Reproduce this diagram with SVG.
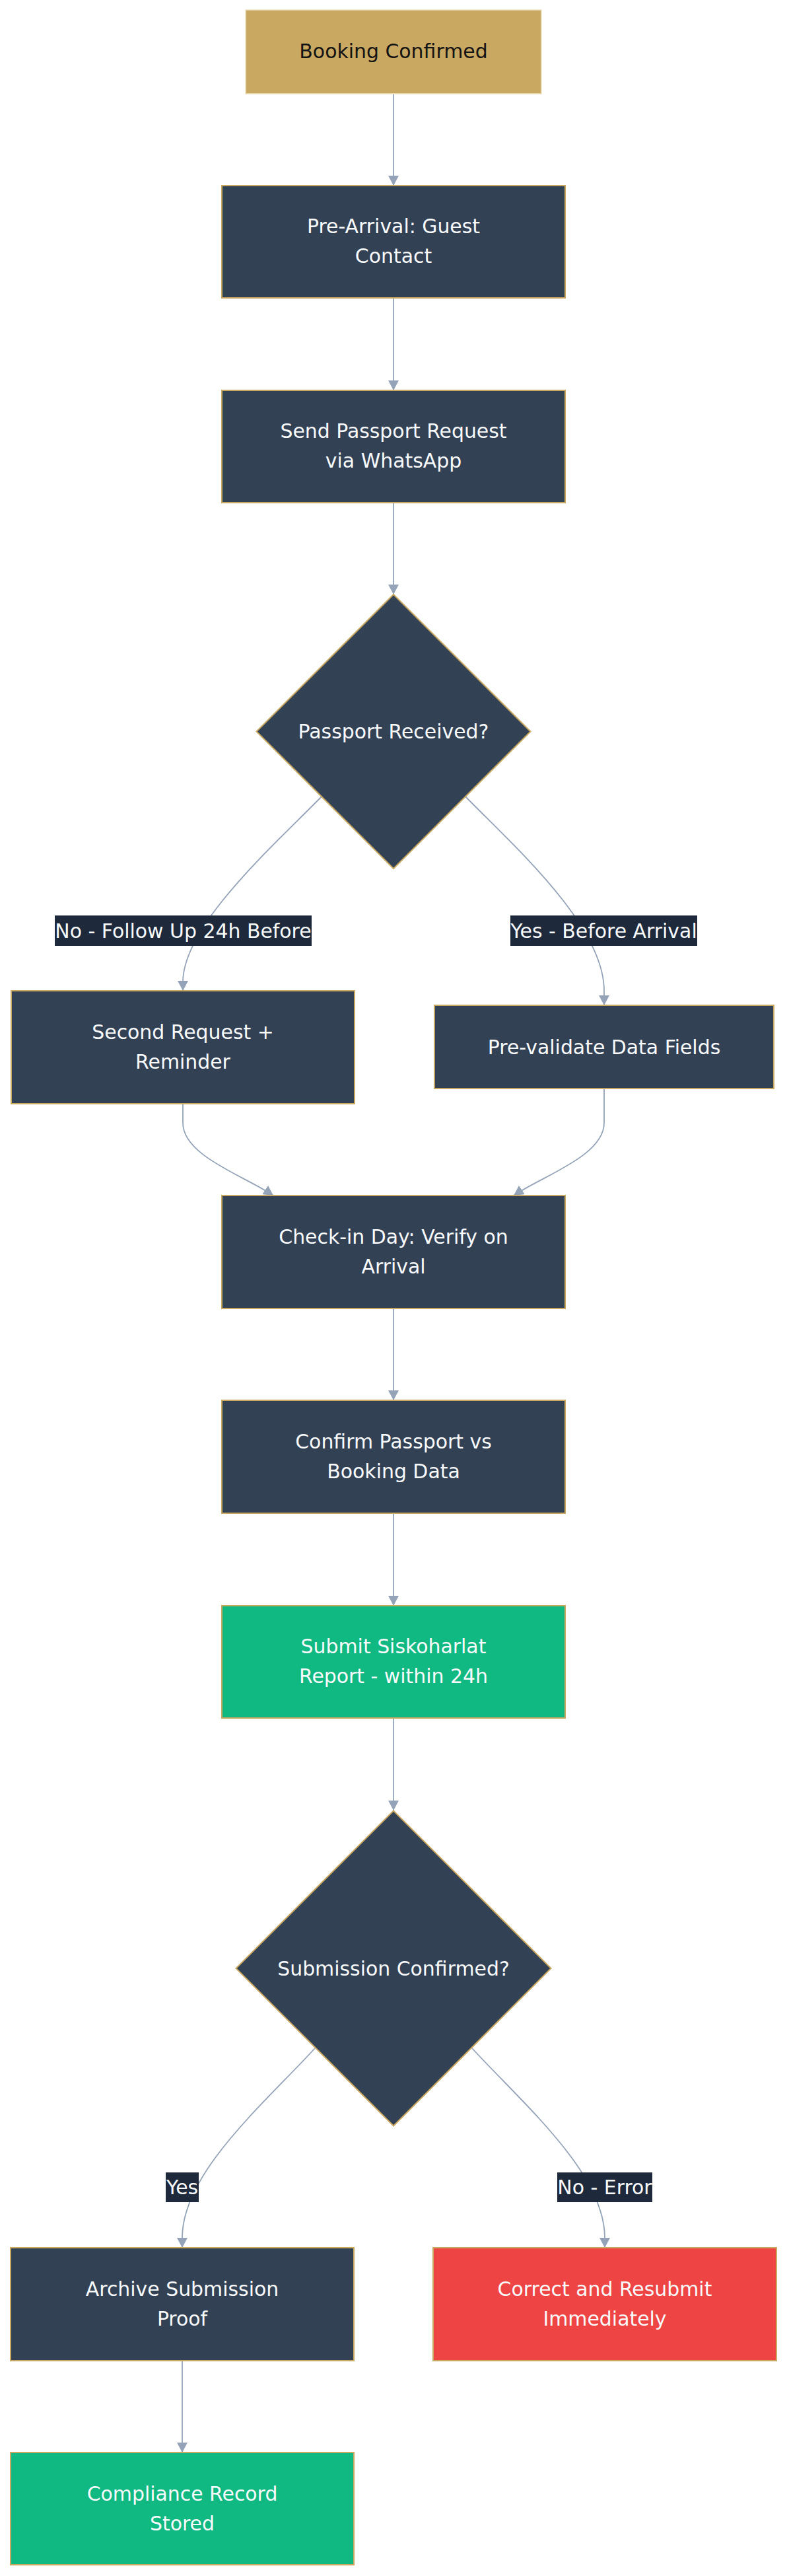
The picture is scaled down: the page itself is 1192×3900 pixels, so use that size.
<svg xmlns="http://www.w3.org/2000/svg" width="1192" height="3900" viewBox="0 0 1192 3900">
<style>
.bg{fill:#ffffff}
.node{fill:#334155;stroke:#c9a961;stroke-width:2}
.start{fill:#c9a862;stroke:#efe3c4;stroke-width:1.5}
.ok{fill:#10b981;stroke:#c9a961;stroke-width:2}
.err{fill:#ef4444;stroke:#c9a961;stroke-width:2}
.t{font-family:"DejaVu Sans","Liberation Sans",sans-serif;font-size:29.9px;fill:#f8fafc;text-anchor:middle}
.td{fill:#141414}
.edge{fill:none;stroke:#94a3b8;stroke-width:1.8}
.lbl{fill:#1e293b}
</style>
<defs>
<marker id="arr" markerUnits="userSpaceOnUse" markerWidth="16" markerHeight="16" refX="15" refY="8" orient="auto">
<path d="M0,0 L15,8 L0,16 z" fill="#94a3b8"/>
</marker>
</defs>
<rect class="bg" x="0" y="0" width="1192" height="3900"/>

<g id="connectors">
<path class="edge" d="M596,142 L596,281" marker-end="url(#arr)"/>
<path class="edge" d="M596,451 L596,591" marker-end="url(#arr)"/>
<path class="edge" d="M596,761 L596,900" marker-end="url(#arr)"/>
<path class="edge" d="M487,1206 C420,1275 277,1400 277,1487 L277,1500" marker-end="url(#arr)"/>
<path class="edge" d="M705,1206 C772,1275 915,1400 915,1500 L915,1522" marker-end="url(#arr)"/>
<path class="edge" d="M277,1671 L277,1700 C277,1750 370,1780 414,1810" marker-end="url(#arr)"/>
<path class="edge" d="M915,1648 L915,1700 C915,1750 822,1780 778,1810" marker-end="url(#arr)"/>
<path class="edge" d="M596,1981 L596,2120" marker-end="url(#arr)"/>
<path class="edge" d="M596,2291 L596,2431" marker-end="url(#arr)"/>
<path class="edge" d="M596,2601 L596,2741" marker-end="url(#arr)"/>
<path class="edge" d="M477,3101 C400,3185 276,3290 276,3388 L276,3403" marker-end="url(#arr)"/>
<path class="edge" d="M715,3101 C792,3185 916,3290 916,3388 L916,3403" marker-end="url(#arr)"/>
<path class="edge" d="M276,3574 L276,3713" marker-end="url(#arr)"/>
<g id="edge-labels">
<rect class="lbl" x="83" y="1386" width="389" height="46"/>
<text class="t" x="277.5" y="1419.5">No - Follow Up 24h Before</text>
<rect class="lbl" x="773" y="1386" width="283" height="46"/>
<text class="t" x="914.5" y="1419.5">Yes - Before Arrival</text>
<rect class="lbl" x="251" y="3289" width="50" height="45"/>
<text class="t" x="276" y="3322">Yes</text>
<rect class="lbl" x="844" y="3289" width="144" height="45"/>
<text class="t" x="916" y="3322">No - Error</text>
</g>
</g>

<g id="booking-confirmed">
<rect class="start" x="372" y="15" width="448" height="127"/>
<text class="t td" x="596" y="88">Booking Confirmed</text>
</g>
<g id="pre-arrival">
<rect class="node" x="336" y="281" width="520" height="170"/>
<text class="t" x="596" y="353">Pre-Arrival: Guest</text>
<text class="t" x="596" y="398">Contact</text>
</g>
<g id="send-request">
<rect class="node" x="336" y="591" width="520" height="170"/>
<text class="t" x="596" y="663">Send Passport Request</text>
<text class="t" x="596" y="708">via WhatsApp</text>
</g>
<g id="passport-received">
<polygon class="node" points="596,900 803.5,1107.5 596,1315 388.5,1107.5"/>
<text class="t" x="596" y="1118">Passport Received?</text>
</g>
<g id="second-request">
<rect class="node" x="17" y="1500" width="520" height="171"/>
<text class="t" x="277" y="1573">Second Request +</text>
<text class="t" x="277" y="1618">Reminder</text>
</g>
<g id="pre-validate">
<rect class="node" x="658" y="1522" width="514" height="126"/>
<text class="t" x="915" y="1595.5">Pre-validate Data Fields</text>
</g>
<g id="check-in">
<rect class="node" x="336" y="1810" width="520" height="171"/>
<text class="t" x="596" y="1883">Check-in Day: Verify on</text>
<text class="t" x="596" y="1928">Arrival</text>
</g>
<g id="confirm-passport">
<rect class="node" x="336" y="2120" width="520" height="171"/>
<text class="t" x="596" y="2193">Confirm Passport vs</text>
<text class="t" x="596" y="2238">Booking Data</text>
</g>
<g id="submit-report">
<rect class="ok" x="336" y="2431" width="520" height="170"/>
<text class="t" x="596" y="2503">Submit Siskoharlat</text>
<text class="t" x="596" y="2548">Report - within 24h</text>
</g>
<g id="submission-confirmed">
<polygon class="node" points="596,2741.5 834.5,2980 596,3218.5 357.5,2980"/>
<text class="t" x="596" y="2990.5">Submission Confirmed?</text>
</g>
<g id="archive-proof">
<rect class="node" x="16" y="3403" width="520" height="171"/>
<text class="t" x="276" y="3476">Archive Submission</text>
<text class="t" x="276" y="3521">Proof</text>
</g>
<g id="correct-resubmit">
<rect class="err" x="656" y="3403" width="520" height="171"/>
<text class="t" x="916" y="3476">Correct and Resubmit</text>
<text class="t" x="916" y="3521">Immediately</text>
</g>
<g id="compliance-record">
<rect class="ok" x="16" y="3713" width="520" height="170"/>
<text class="t" x="276" y="3786">Compliance Record</text>
<text class="t" x="276" y="3831">Stored</text>
</g>
</svg>
